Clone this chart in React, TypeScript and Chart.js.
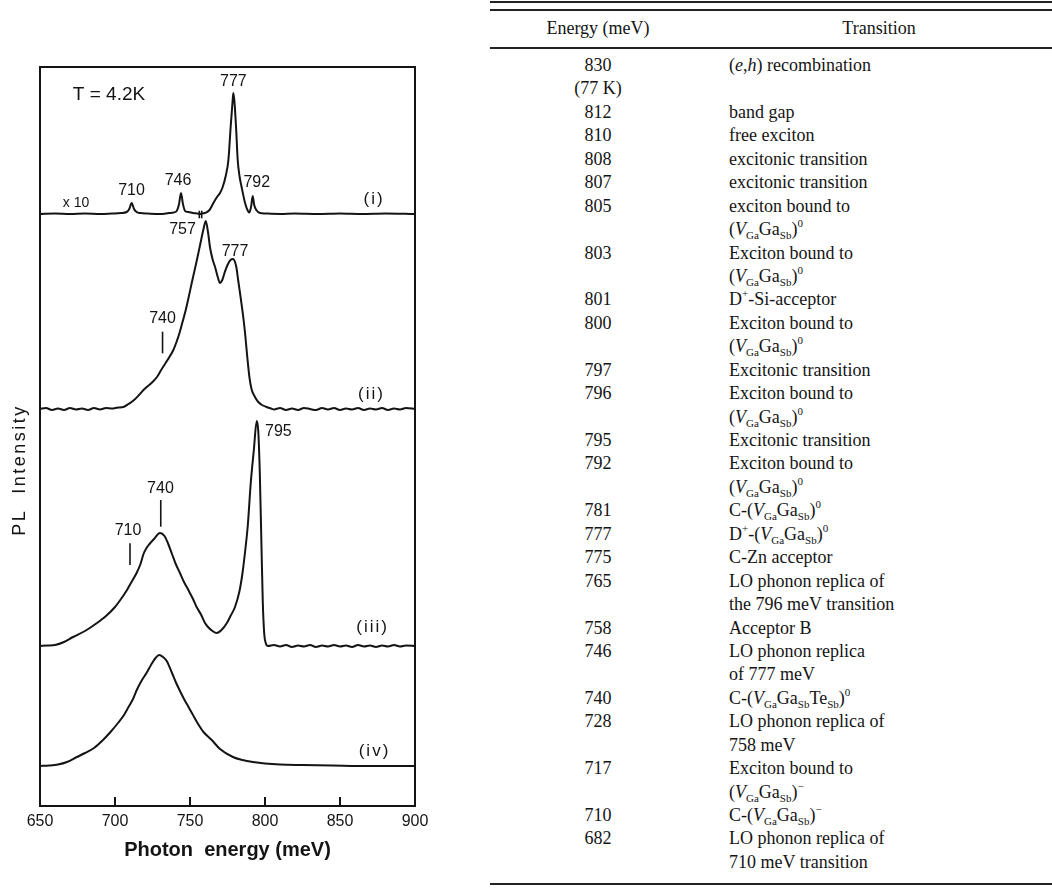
import React, { useEffect, useRef } from "react";
import { Chart, registerables } from "chart.js";

Chart.register(...registerables);

// ---------- chart data (x: photon energy meV, y: intensity above each trace's baseline, arbitrary units) ----------
const X_TICKS = [650, 700, 750, 800, 850, 900];

const E_I = [650, 660, 670, 680, 690, 698, 704, 707.8, 709.5, 711.1, 712.7, 714.4, 717, 722, 730, 736, 739, 741.1, 742.7, 744, 745.3, 746.7, 749, 752, 755, 756.7, 758, 760, 763, 765.6, 768, 770, 771.8, 773.8, 775.6, 777.1, 778.4, 778.9, 779.6, 780.7, 781.8, 783, 784.4, 786.7, 788.3, 789.5, 790.7, 791.8, 792.8, 794.2, 796.7, 800, 810, 820, 835, 850, 865, 880, 900];
const H_I = [0, 0.5, 0, 0.5, 0, 0.5, 1, 2, 5, 11, 5, 2, 1, 0.5, 0, 1, 1.5, 3, 10, 21, 10, 3, 2, 1, 0.5, 0, 0.5, 1, 4, 11, 17, 21, 27, 38, 54, 87, 113, 121, 113, 87, 54, 38, 27, 11, 4, 1.5, 7, 18, 9, 4, 1, 0.5, 0, 0.5, 0, 0.5, 0, 0.5, 0];

const E_II = [650, 654, 658, 662, 666, 670, 674, 678, 682, 686, 690, 694, 698, 702, 705.6, 709, 712.7, 716, 719, 722, 725, 728, 730, 732, 735, 738.9, 741, 743, 745, 747, 748.7, 751, 754.6, 757, 759, 760.5, 762, 763.3, 765, 766.7, 768.5, 770, 771.5, 773, 775, 777, 778.7, 780, 781, 782, 784, 785.5, 786.7, 788, 789.6, 791, 793.3, 795.5, 798, 801, 804, 806, 810, 814, 818, 822, 826, 830, 834, 838, 842, 846, 850, 854, 858, 862, 866, 870, 874, 878, 882, 886, 890, 894, 900];
const H_II = [0, 1, -1, 0.5, -1, 1, -0.5, 0.5, -1, 1, -0.5, 1, 0.5, 1.5, 2, 5, 9, 14, 19, 23, 27, 32, 37, 42, 49, 59, 67, 76, 87, 98, 109, 125, 149, 166, 180, 188, 177, 162, 150, 142, 132, 126, 129, 136, 144, 149, 150, 147, 141, 130, 109, 92, 76, 55, 32, 20, 12, 7, 4, 2, 0.5, -0.5, 1, -1, 0.5, -1, 1, 0, -1, 1, -0.5, 1, -1, 0.5, -0.5, 1, -1, 0.5, -0.5, 1, -1, 0.5, -0.5, 1, 0];

const E_III = [650, 655, 660, 666, 672, 680, 688, 694, 700, 704, 708, 711, 714.4, 717, 719, 721, 723, 726, 730, 733, 735.5, 738, 740.5, 743.3, 746, 748.9, 752, 754.4, 757.5, 760, 762, 765, 767.8, 771, 774.6, 777, 780, 783, 785, 787, 788.5, 790.5, 792.5, 794.5, 795.5, 796.5, 797.5, 798.5, 799.5, 800.5, 802, 806, 810, 814, 818, 822, 826, 830, 834, 838, 842, 846, 850, 854, 858, 862, 866, 870, 874, 878, 882, 886, 890, 894, 900];
const H_III = [0, 0.5, 1, 4, 9, 15, 23, 30, 39, 47, 56, 64, 73, 82, 92, 98, 102, 107, 113, 110, 102, 92, 82, 73, 64, 56, 47, 39, 31, 23, 19, 15, 13, 16, 23, 30, 39, 55, 73, 98, 120, 163, 195, 225, 215, 175, 110, 45, 12, 3, 0, 1, -0.5, 1, -1, 0.5, -0.5, 1, -1, 0.5, -0.5, 1, -0.5, 0.5, -1, 1, -0.5, 0.5, -1, 0.5, -0.5, 1, -0.5, 0.5, 0];

const E_IV = [650, 656, 662, 668, 674.6, 680, 686, 692, 697, 702, 706, 709, 712, 714.5, 718, 721, 724, 727, 729.5, 732, 734.5, 738, 740.5, 743, 746, 749, 752, 755, 759, 764.5, 770, 778.6, 785, 792, 800, 810, 825, 845, 870, 900];
const H_IV = [0, 0.5, 1.5, 4, 9, 13, 18, 26, 34, 43, 51, 59, 67, 76, 86, 93, 101, 108, 111, 109, 105, 93, 84, 76, 67, 59, 51, 43, 34, 26, 17, 9, 6, 4, 2.5, 1.5, 1, 0.5, 0, 0];

// baselines of the stacked spectra (i)..(iv)
const OFFSETS = [592, 397, 160, 40];
const Y_MAX = 739;

// text annotations (energy, y-value)
const LABEL_TEXT = ["T = 4.2K", "777", "x 10", "710", "746", "792", "(i)", "757", "777", "740", "(ii)", "795", "740", "710", "(iii)", "(iv)"];
const LABEL_X = [696, 778.9, 674, 711, 742, 794.5, 872.7, 745, 780, 731.7, 871, 808.9, 730.3, 708.7, 871.7, 873];
const LABEL_Y = [711.5, 724, 602.5, 615, 625, 623, 606.5, 576, 554.5, 487, 411.5, 374, 317, 275, 179, 54.5];
const LABEL_SIZE = [19, 16, 14, 16, 16, 16, 17, 16, 16, 16, 17, 16, 16, 16, 17, 17];

// short vertical marker strokes (energy, y from, y to)
const MARK_X = [731.7, 730.5, 710, 756.2, 757.8];
const MARK_Y1 = [474.3, 306, 262.7, 595.3, 595.3];
const MARK_Y2 = [452.7, 279.3, 241, 587.7, 587.7];

// ---------- table data ----------
const Sub = ({ children }: { children: React.ReactNode }) => (
  <span style={{ fontSize: 11, lineHeight: 0, position: "relative", top: 4 }}>{children}</span>
);
const Sup = ({ children }: { children: React.ReactNode }) => (
  <span style={{ fontSize: 11, lineHeight: 0, position: "relative", top: -8 }}>{children}</span>
);
const VGG = (charge: string) => (
  <>
    (<i>V</i>
    <Sub>Ga</Sub>Ga<Sub>Sb</Sub>)<Sup>{charge}</Sup>
  </>
);

const TABLE_ENERGY = ["830", "(77 K)", "812", "810", "808", "807", "805", "", "803", "", "801", "800", "", "797", "796", "", "795", "792", "", "781", "777", "775", "765", "", "758", "746", "", "740", "728", "", "717", "", "710", "682", ""];
const TABLE_TRANSITION: React.ReactNode[] = [
  <>(<i>e</i>,<i>h</i>) recombination</>,
  "",
  "band gap",
  "free exciton",
  "excitonic transition",
  "excitonic transition",
  "exciton bound to",
  VGG("0"),
  "Exciton bound to",
  VGG("0"),
  <>D<Sup>+</Sup>-Si-acceptor</>,
  "Exciton bound to",
  VGG("0"),
  "Excitonic transition",
  "Exciton bound to",
  VGG("0"),
  "Excitonic transition",
  "Exciton bound to",
  VGG("0"),
  <>C-{VGG("0")}</>,
  <>D<Sup>+</Sup>-{VGG("0")}</>,
  "C-Zn acceptor",
  "LO phonon replica of",
  "the 796 meV transition",
  "Acceptor B",
  "LO phonon replica",
  "of 777 meV",
  <>C-(<i>V</i><Sub>Ga</Sub>Ga<Sub>Sb</Sub>Te<Sub>Sb</Sub>)<Sup>0</Sup></>,
  "LO phonon replica of",
  "758 meV",
  "Exciton bound to",
  VGG("\u2212"),
  <>C-{VGG("\u2212")}</>,
  "LO phonon replica of",
  "710 meV transition",
];

const SANS = "'Liberation Sans', Arial, sans-serif";
const INK = "#141414";

const decorPlugin = {
  id: "decor",
  afterDatasetsDraw(chart: any) {
    const { ctx, chartArea } = chart;
    const xs = chart.scales.x;
    const ys = chart.scales.y;
    ctx.save();
    ctx.strokeStyle = INK;
    ctx.fillStyle = INK;
    ctx.lineWidth = 2;
    ctx.strokeRect(chartArea.left, chartArea.top, chartArea.right - chartArea.left, chartArea.bottom - chartArea.top);
    xs.ticks.forEach((t: any, i: number) => {
      if (i === 0 || i === xs.ticks.length - 1) return;
      const px = Math.round(xs.getPixelForValue(t.value));
      ctx.beginPath();
      ctx.moveTo(px, chartArea.bottom);
      ctx.lineTo(px, chartArea.bottom - 9);
      ctx.stroke();
    });
    ctx.lineWidth = 1.6;
    MARK_X.forEach((mx, i) => {
      const px = xs.getPixelForValue(mx);
      ctx.beginPath();
      ctx.moveTo(px, ys.getPixelForValue(MARK_Y1[i]));
      ctx.lineTo(px, ys.getPixelForValue(MARK_Y2[i]));
      ctx.stroke();
    });
    ctx.textAlign = "center";
    ctx.textBaseline = "middle";
    LABEL_TEXT.forEach((txt, i) => {
      ctx.font = `${LABEL_SIZE[i]}px ${SANS}`;
      (ctx as any).letterSpacing = txt.startsWith("(") ? "2px" : "0px";
      ctx.fillText(txt, xs.getPixelForValue(LABEL_X[i]), ys.getPixelForValue(LABEL_Y[i]));
    });
    ctx.font = `18px ${SANS}`;
    (ctx as any).letterSpacing = "2.5px";
    ctx.translate(20, 470);
    ctx.rotate(-Math.PI / 2);
    ctx.fillText("PL  Intensity", 0, 0);
    ctx.restore();
  },
};

function SpectraChart() {
  const ref = useRef<HTMLCanvasElement>(null);
  useEffect(() => {
    const canvas = ref.current;
    if (!canvas) return;
    const traces = [
      [E_I, H_I],
      [E_II, H_II],
      [E_III, H_III],
      [E_IV, H_IV],
    ];
    const chart = new Chart(canvas, {
      type: "line",
      data: {
        datasets: traces.map(([E, H], k) => ({
          label: ["(i)", "(ii)", "(iii)", "(iv)"][k],
          data: E.map((e, i) => ({ x: e, y: H[i] + OFFSETS[k] })),
          borderColor: INK,
          borderWidth: 2,
          pointRadius: 0,
          fill: false,
          cubicInterpolationMode: "monotone" as const,
        })),
      },
      options: {
        animation: false,
        responsive: false,
        devicePixelRatio: 1,
        events: [],
        layout: { padding: { left: 40, right: 45, top: 67, bottom: 0 } },
        plugins: { legend: { display: false }, tooltip: { enabled: false } },
        scales: {
          x: {
            type: "linear",
            min: 650,
            max: 900,
            afterBuildTicks: (s: any) => {
              s.ticks = X_TICKS.map((v) => ({ value: v }));
            },
            afterFit: (s: any) => {
              s.height = 82;
            },
            grid: { display: false, drawTicks: false },
            border: { display: false },
            ticks: { color: INK, font: { family: SANS, size: 16 }, padding: 6, maxRotation: 0 },
            title: {
              display: true,
              text: "Photon  energy (meV)",
              color: INK,
              font: { family: SANS, size: 20, weight: "bold" },
              padding: { top: 0, bottom: 26 },
            },
          },
          y: { type: "linear", display: false, min: 0, max: Y_MAX },
        },
      },
      plugins: [decorPlugin],
    } as any);
    return () => chart.destroy();
  }, []);
  return (
    <canvas
      ref={ref}
      width={460}
      height={888}
      style={{ position: "absolute", left: 0, top: 0, width: 460, height: 888 }}
    />
  );
}

function TransitionTable() {
  const ROW_H = 23.44;
  const rule = (top: number, h: number) => (
    <div style={{ position: "absolute", left: 0, right: 0, top, height: h, background: "#222" }} />
  );
  return (
    <div
      style={{
        position: "absolute",
        left: 490,
        top: 0,
        width: 562,
        height: 888,
        fontFamily: "'Liberation Serif', 'Times New Roman', serif",
        fontSize: 18,
        color: INK,
      }}
    >
      {rule(1, 1.5)}
      {rule(9, 2)}
      <div style={{ position: "absolute", left: 0, top: 16, width: 216, height: 24, lineHeight: "24px", textAlign: "center" }}>
        Energy (meV)
      </div>
      <div style={{ position: "absolute", left: 216, top: 16, width: 346, height: 24, lineHeight: "24px", textAlign: "center" }}>
        Transition
      </div>
      {rule(47, 2)}
      <table
        style={{
          position: "absolute",
          left: 0,
          top: 54,
          width: 562,
          borderCollapse: "collapse",
          borderSpacing: 0,
          fontSize: 18,
        }}
      >
        <tbody>
          {TABLE_ENERGY.map((e, i) => (
            <tr key={i} style={{ height: ROW_H }}>
              <td style={{ width: 216, padding: 0, textAlign: "center", lineHeight: `${ROW_H}px`, height: ROW_H, whiteSpace: "nowrap" }}>{e}</td>
              <td style={{ width: 323, padding: "0 0 0 23px", textAlign: "left", lineHeight: `${ROW_H}px`, height: ROW_H, whiteSpace: "nowrap" }}>
                {TABLE_TRANSITION[i]}
              </td>
            </tr>
          ))}
        </tbody>
      </table>
      {rule(883, 2)}
    </div>
  );
}

export default function App() {
  return (
    <div style={{ position: "absolute", left: 0, top: 0, width: 1052, height: 888, background: "#fff", overflow: "hidden" }}>
      <SpectraChart />
      <TransitionTable />
    </div>
  );
}
